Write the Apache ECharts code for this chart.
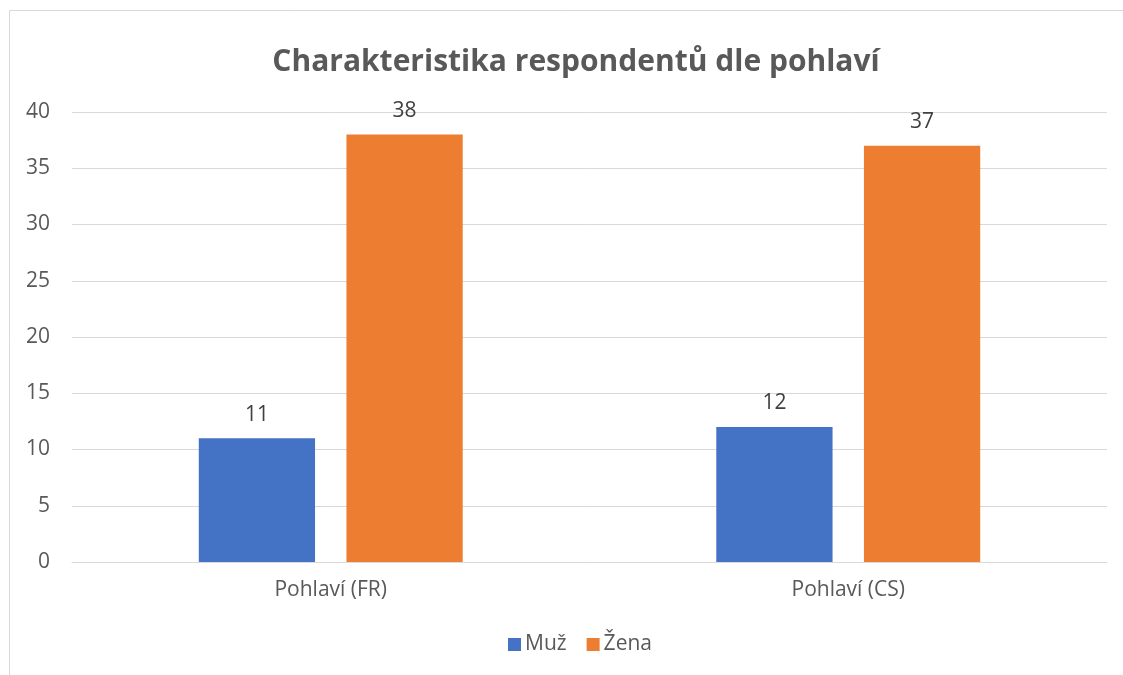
<!DOCTYPE html>
<html>
<head>
<meta charset="utf-8">
<script src="https://cdn.jsdelivr.net/npm/echarts@6/dist/echarts.min.js"></script>
<style>
  html, body { margin: 0; padding: 0; background: #fff; }
  #chart { width: 1123px; height: 675px; }
</style>
</head>
<body>
<div id="chart"></div>
<script>
var categories = ['Pohlaví (FR)', 'Pohlaví (CS)'];
var muz = [11, 12];
var zena = [38, 37];
var yTicks = { min: 0, max: 40, interval: 5 };

var font = '"Open Sans", "Noto Sans", sans-serif';
var textColor = '#595959';

var chart = echarts.init(document.getElementById('chart'));
var option = {
    animation: false,
    textStyle: { fontFamily: font },
    title: {
        text: 'Charakteristika respondentů dle pohlaví',
        left: 571,
        textAlign: 'center',
        top: 42,
        textStyle: {
            color: textColor,
            fontSize: 30,
            fontWeight: 'bold',
            fontFamily: font
        }
    },
    graphic: [{
        type: 'rect',
        shape: { x: 9.5, y: 10.5, width: 1130, height: 700 },
        style: { fill: 'none', stroke: '#d9d9d9', lineWidth: 1 },
        silent: true
    }],
    legend: {
        bottom: 15,
        left: 503,
        itemWidth: 13,
        itemHeight: 13,
        itemGap: 20,
        icon: 'rect',
        textStyle: { color: textColor, fontSize: 21, fontFamily: font, padding: [0, 0, 0, -1] },
        data: ['Muž', 'Žena']
    },
    grid: {
        left: 72,
        right: 16,
        top: 112,
        bottom: 113
    },
    xAxis: {
        type: 'category',
        data: categories,
        axisTick: { show: false },
        axisLine: { lineStyle: { color: '#d9d9d9', width: 1 } },
        axisLabel: { color: textColor, fontSize: 21, margin: 18, fontFamily: font }
    },
    yAxis: {
        type: 'value',
        min: yTicks.min,
        max: yTicks.max,
        interval: yTicks.interval,
        axisLine: { show: false },
        axisTick: { show: false },
        axisLabel: { color: textColor, fontSize: 21, margin: 22, fontFamily: font },
        splitLine: { lineStyle: { color: '#d9d9d9', width: 1 } }
    },
    series: [
        {
            name: 'Muž',
            type: 'bar',
            data: muz,
            barGap: '27%',
            barCategoryGap: '49%',
            itemStyle: { color: '#4472c4' },
            label: {
                show: true,
                position: 'top',
                distance: 13,
                color: '#404040',
                fontSize: 21,
                fontFamily: font
            }
        },
        {
            name: 'Žena',
            type: 'bar',
            data: zena,
            itemStyle: { color: '#ed7d31' },
            label: {
                show: true,
                position: 'top',
                distance: 13,
                color: '#404040',
                fontSize: 21,
                fontFamily: font
            }
        }
    ]
};
chart.setOption(option);
</script>
</body>
</html>
